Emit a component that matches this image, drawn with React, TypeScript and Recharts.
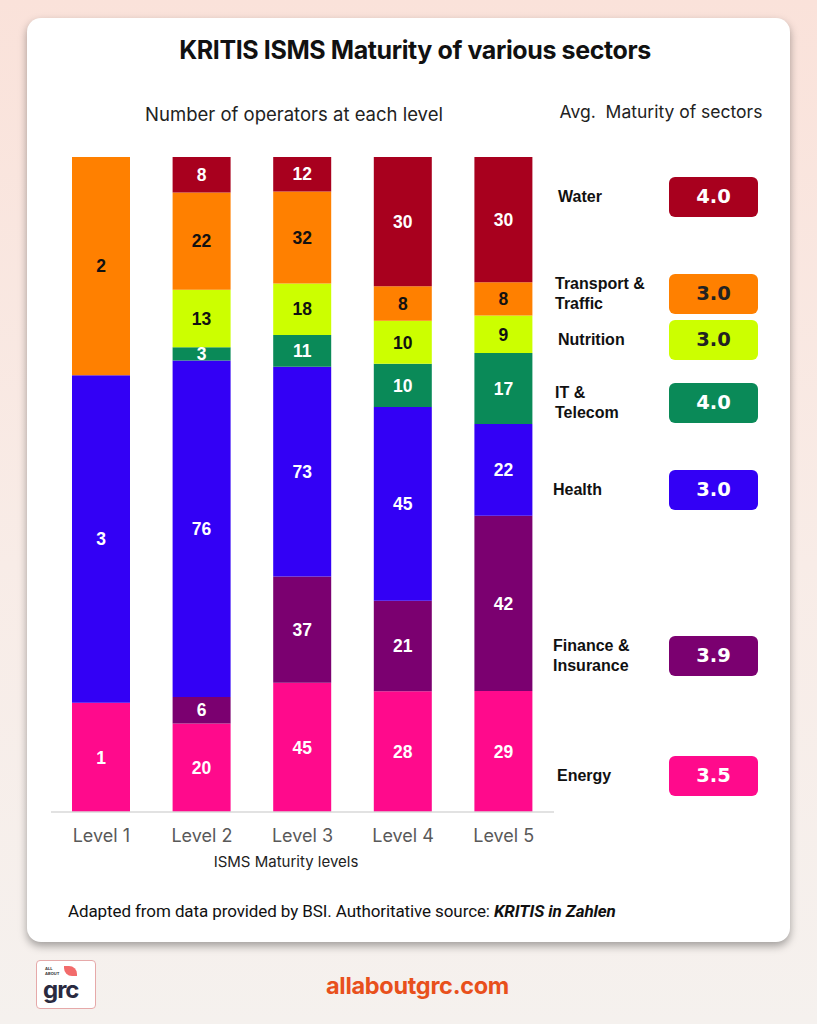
import { BarChart, Bar, XAxis, YAxis, LabelList } from "recharts"

const levels = ["Level 1", "Level 2", "Level 3", "Level 4", "Level 5"]

// operators per sector at each level (null = no entry)
const energy = [1, 20, 45, 28, 29]
const finance = [0, 6, 37, 21, 42]
const health = [3, 76, 73, 45, 22]
const itTelecom = [null, 3, 11, 10, 17]
const nutrition = [0, 13, 18, 10, 9]
const transport = [2, 22, 32, 8, 8]
const water = [null, 8, 12, 30, 30]

const sectorKeys = ["energy", "finance", "health", "it", "nutrition", "transport", "water"]
const sectorColors = ["#FF0A8C", "#7B0070", "#3300F5", "#0A8A58", "#CCFF00", "#FF8000", "#A8001E"]
const labelColors = ["#fff", "#fff", "#fff", "#fff", "#111", "#111", "#fff"]

// avg maturity panel (top to bottom)
const avgNames = [["Water"], ["Transport &", "Traffic"], ["Nutrition"], ["IT &", "Telecom"], ["Health"], ["Finance &", "Insurance"], ["Energy"]]
const avgValues = ["4.0", "3.0", "3.0", "4.0", "3.0", "3.9", "3.5"]
const avgColors = ["#A8001E", "#FF8000", "#CCFF00", "#0A8A58", "#3300F5", "#7B0070", "#FF0A8C"]
const avgText = ["#fff", "#222", "#222", "#fff", "#fff", "#fff", "#fff"]
const avgY = [197, 294, 340, 403, 490, 656, 776]
const avgX = [558, 555, 558, 555, 553, 553, 557]

const data = levels.map((name, i) => ({
  name,
  energy: energy[i],
  finance: finance[i],
  health: health[i],
  it: itTelecom[i],
  nutrition: nutrition[i],
  transport: transport[i],
  water: water[i],
}))

const sans = "Inter, 'Open Sans', sans-serif"
const bold = "'Liberation Sans', Arial, sans-serif"

const App = () => {
  return (
    <div style={{ position: "absolute", left: 0, top: 0, width: 817, height: 1024, overflow: "hidden",
      background: "linear-gradient(180deg, #fae2da 0%, #f8ece7 55%, #f5f1ee 100%)", fontFamily: sans }}>
      <div style={{ position: "absolute", left: 27, top: 18, width: 763, height: 924, background: "#fff",
        borderRadius: 14, boxShadow: "0 4px 8px rgba(0,0,0,0.35)" }} />

      <div style={{ position: "absolute", left: 0, width: 830, top: 35, textAlign: "center", fontSize: 25,
        fontWeight: 700, color: "#111", letterSpacing: -0.4 }}>KRITIS ISMS Maturity of various sectors</div>
      <div style={{ position: "absolute", left: 134, width: 320, top: 103, textAlign: "center", fontSize: 18.5, color: "#222" }}>
        Number of operators at each level</div>
      <div style={{ position: "absolute", left: 550, width: 222, top: 101, textAlign: "center", fontSize: 17.5, color: "#222" }}>
        Avg.&nbsp; Maturity of sectors</div>

      <div style={{ position: "absolute", left: 0, top: 0 }}>
        <BarChart width={600} height={900} data={data} stackOffset="expand" barSize={58}
          margin={{ top: 157, left: 51, right: 46, bottom: 58 }}>
          <XAxis dataKey="name" height={30} axisLine={{ stroke: "#d9d9d9", strokeWidth: 1.5 }} tickLine={false}
            tickMargin={11} tick={{ fill: "#595959", fontSize: 18, fontFamily: sans }} />
          <YAxis hide domain={[0, 1]} />
          {sectorKeys.map((k, i) => (
            <Bar key={k} dataKey={k} stackId="a" fill={sectorColors[i]} isAnimationActive={false}>
              <LabelList dataKey={k} position="center" fill={labelColors[i]} fontSize={17.5} fontWeight={700}
                fontFamily={bold} />
            </Bar>
          ))}
        </BarChart>
      </div>

      <div style={{ position: "absolute", left: 186, width: 200, top: 852, textAlign: "center", fontSize: 15, color: "#222" }}>
        ISMS Maturity levels</div>

      {avgNames.map((lines, i) => (
        <div key={i}>
          <div style={{ position: "absolute", left: avgX[i], top: avgY[i] - lines.length * 10, fontFamily: bold,
            fontWeight: 700, fontSize: 16, lineHeight: "20px", color: "#111" }}>
            {lines.map((l) => <div key={l}>{l}</div>)}
          </div>
          <div style={{ position: "absolute", left: 669, top: avgY[i] - 20, width: 89, height: 40, borderRadius: 6,
            background: avgColors[i], color: avgText[i], fontFamily: "'DejaVu Sans', sans-serif", fontWeight: 700,
            fontSize: 19.5, lineHeight: "40px", textAlign: "center" }}>{avgValues[i]}</div>
        </div>
      ))}

      <div style={{ position: "absolute", left: 68, top: 901, fontFamily: "Roboto, sans-serif", fontSize: 17,
        color: "#111", letterSpacing: -0.1 }}>
        Adapted from data provided by BSI. Authoritative source: <b><i>KRITIS in Zahlen</i></b></div>

      <div style={{ position: "absolute", left: 36, top: 960, width: 58, height: 47, borderRadius: 4,
        border: "1px solid #e6a9a9", background: "#fff" }}>
        <div style={{ position: "absolute", left: 8, top: 5, fontSize: 4, lineHeight: "5px", color: "#333", fontWeight: 700 }}>ALL<br />ABOUT</div>
        <div style={{ position: "absolute", left: 27, top: 5, width: 13, height: 10, background: "#f26b6b",
          borderRadius: "0 8px 0 8px" }} />
        <div style={{ position: "absolute", left: 6, top: 17, fontSize: 24, fontWeight: 700, color: "#2a2a40",
          lineHeight: "24px", letterSpacing: -1 }}>grc</div>
      </div>
      <div style={{ position: "absolute", left: 9, width: 817, top: 971, textAlign: "center", fontSize: 23.5,
        fontWeight: 700, color: "#E8501C", letterSpacing: -0.3 }}>allaboutgrc.com</div>
    </div>
  )
}

export default App
